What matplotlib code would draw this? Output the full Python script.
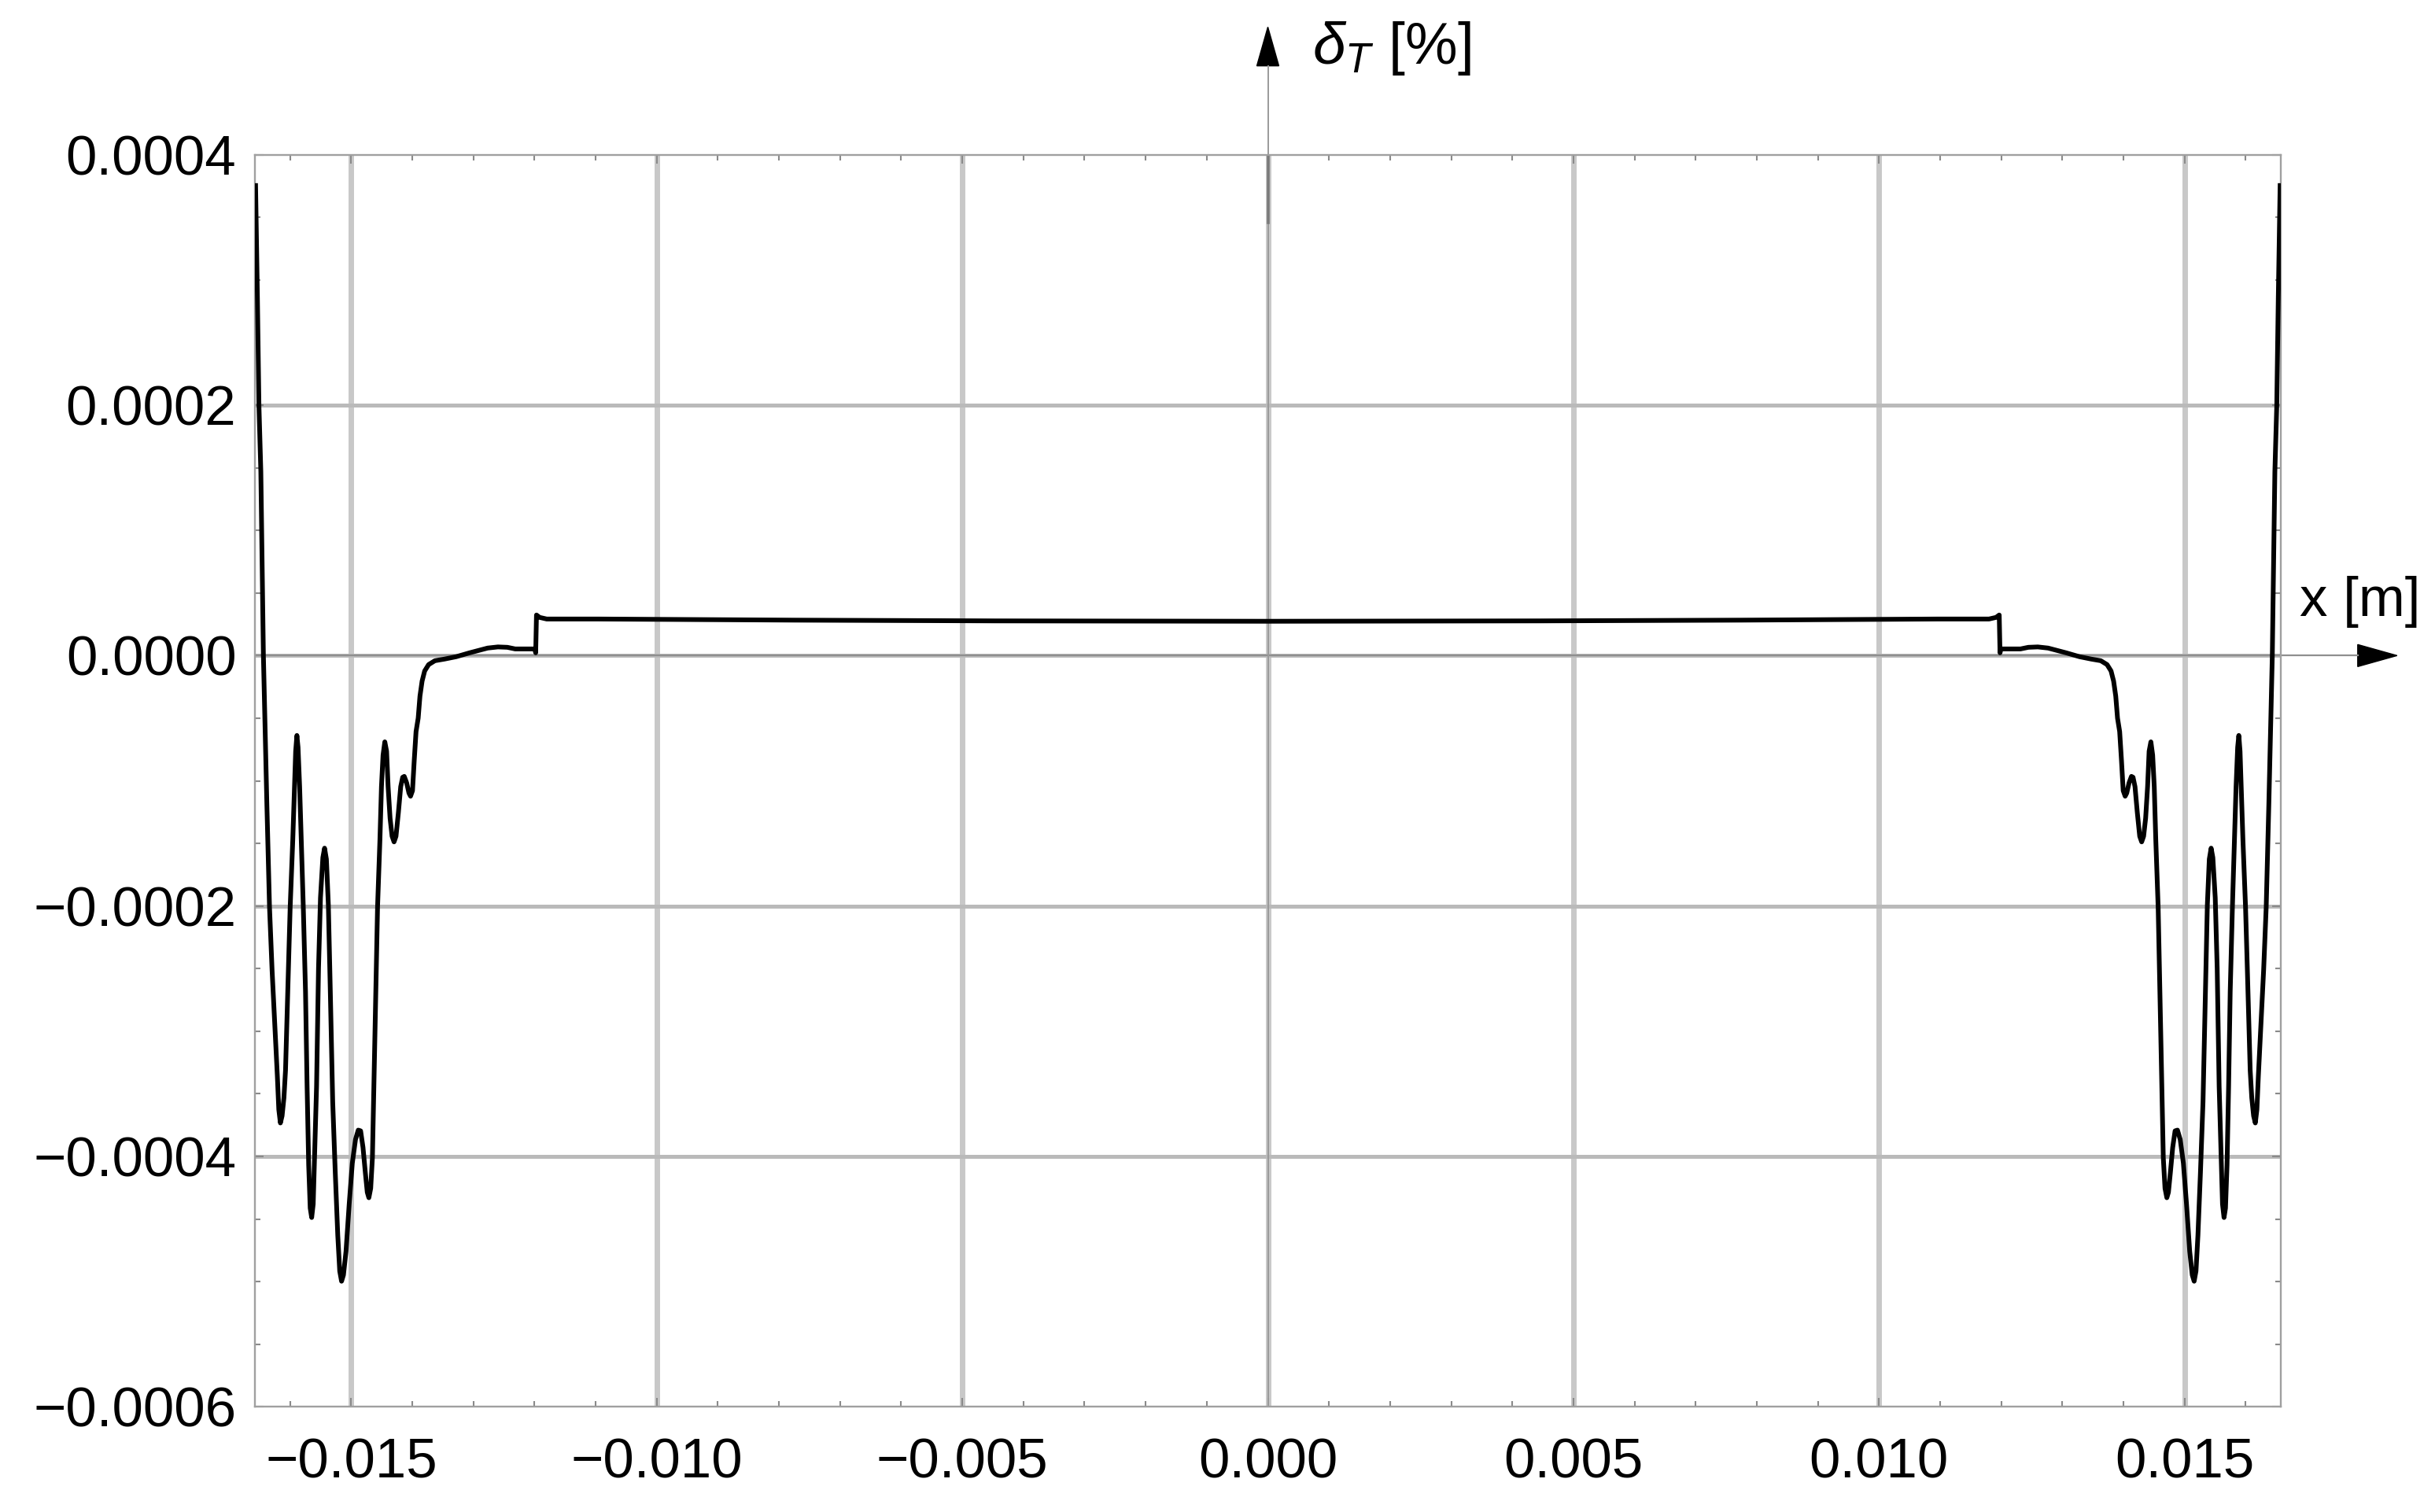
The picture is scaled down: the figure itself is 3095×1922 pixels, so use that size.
import numpy as np
import matplotlib
matplotlib.use("Agg")
import matplotlib.pyplot as plt
from matplotlib.patches import Polygon
from matplotlib.ticker import FixedLocator, FixedFormatter, MultipleLocator

plt.rcParams['font.family'] = ['Liberation Sans', 'DejaVu Sans']
plt.rcParams['mathtext.fontset'] = 'custom'
plt.rcParams['mathtext.rm'] = 'Liberation Sans'
plt.rcParams['mathtext.it'] = 'Liberation Sans:italic'

# left half of the curve (the curve is symmetric about x=0)
x_left = [-0.016566, -0.016536, -0.016511, -0.016480, -0.016459, -0.016438, -0.016382,
          -0.016338, -0.016296, -0.016253, -0.016210, -0.016186, -0.016160, -0.016132,
          -0.016102, -0.016076, -0.016030, -0.016000, -0.015957, -0.015929, -0.015910,
          -0.015890, -0.015871, -0.015845, -0.015813, -0.015785, -0.015749, -0.015723,
          -0.015697, -0.015672, -0.015648, -0.015623, -0.015601, -0.015568, -0.015536,
          -0.015504, -0.015465, -0.015437, -0.015407, -0.015375, -0.015343, -0.015304,
          -0.015262, -0.015221, -0.015189, -0.015159, -0.015128, -0.015086, -0.015034,
          -0.014983, -0.014931, -0.014886, -0.014847, -0.014808, -0.014770, -0.014738,
          -0.014712, -0.014682, -0.014654, -0.014635, -0.014609, -0.014570, -0.014531,
          -0.014506, -0.014480, -0.014451, -0.014422, -0.014397, -0.014365, -0.014332,
          -0.014300, -0.014268, -0.014229, -0.014191, -0.014159, -0.014133, -0.014094,
          -0.014056, -0.014030, -0.013998, -0.013970, -0.013940, -0.013905, -0.013876,
          -0.013841, -0.013799, -0.013734, -0.013631, -0.013476, -0.013283, -0.013064,
          -0.012768, -0.012600, -0.012446, -0.012317, -0.011995, -0.011982, -0.011969,
          -0.011918, -0.011802, -0.010965, -0.007746, -0.004463, 0.0]
y_left = [0.0003754, 0.0002853, 0.0001997, 0.0001469, 0.0000733, 0.0, -0.0001173,
          -0.000201, -0.0002513, -0.0002935, -0.0003356, -0.0003626, -0.0003733, -0.0003676,
          -0.0003532, -0.0003312, -0.0002513, -0.000201, -0.0001469, -0.0001047, -0.0000764,
          -0.0000638, -0.0000733, -0.0001047, -0.000155, -0.000201, -0.0002683, -0.000344,
          -0.000407, -0.0004413, -0.0004488, -0.0004381, -0.000401, -0.000344, -0.0002497,
          -0.0001934, -0.0001613, -0.0001538, -0.0001626, -0.0001991, -0.0002683, -0.0003563,
          -0.0004129, -0.000463, -0.0004916, -0.0004997, -0.0004947, -0.0004758, -0.0004381,
          -0.0004054, -0.0003865, -0.000379, -0.0003796, -0.0003928, -0.0004129, -0.0004287,
          -0.000433, -0.0004255, -0.000401, -0.0003563, -0.0002935, -0.000201, -0.0001469,
          -0.0001047, -0.0000795, -0.0000689, -0.0000764, -0.0001047, -0.0001299, -0.0001443,
          -0.0001488, -0.0001443, -0.0001255, -0.0001047, -0.0000972, -0.0000965, -0.0001016,
          -0.0001098, -0.0001123, -0.0001079, -0.000084, -0.0000607, -0.00005, -0.0000324,
          -0.0000204, -0.0000123, -0.0000072, -0.0000041, -0.0000028, -0.0000009, 0.0000022,
          0.000006, 0.0000069, 0.0000066, 0.0000053, 0.0000053, 0.0000022, 0.0000324,
          0.0000305, 0.0000292, 0.0000292, 0.0000283, 0.0000277, 0.0000274]

x_ticks = [-0.015, -0.010, -0.005, 0.0, 0.005, 0.010, 0.015]
x_tick_labels = ['\u22120.015', '\u22120.010', '\u22120.005', '0.000', '0.005', '0.010', '0.015']
y_ticks = [-0.0006, -0.0004, -0.0002, 0.0, 0.0002, 0.0004]
y_tick_labels = ['\u22120.0006', '\u22120.0004', '\u22120.0002', '0.0000', '0.0002', '0.0004']

# mirror the left half onto the right
x_all = np.concatenate([x_left, -np.array(x_left[:-1])[::-1]])
y_all = np.concatenate([y_left, np.array(y_left[:-1])[::-1]])

W, H = 3095, 1922
fig = plt.figure(figsize=(W / 100, H / 100), dpi=100)
ax = fig.add_axes([324 / W, 1 - 1788.3 / H, (2899 - 324) / W, (1788.3 - 196.7) / H])
ax.set_xlim(-0.016577, 0.016577)
ax.set_ylim(-0.0006, 0.0004)

# grid
for gx in x_ticks:
    ax.axvline(gx, color='#c8c8c8', lw=5.0, zorder=1)
for gy in y_ticks[1:-1]:
    ax.axhline(gy, color='#bababa', lw=3.6, zorder=1)
ax.axhline(0, color='#8f8f8f', lw=1.6, zorder=2)
ax.axvline(0, color='#9a9a9a', lw=1.4, zorder=2)
ax.plot([0, 0], [0.000346, 0.0004], color='#7a7a7a', lw=2.6, zorder=2)

ax.plot(x_all, y_all, color='black', lw=4.3, zorder=5, solid_joinstyle='round')

for s in ax.spines.values():
    s.set_color('#a0a0a0')
    s.set_linewidth(1.7)

ax.xaxis.set_major_locator(FixedLocator(x_ticks))
ax.xaxis.set_major_formatter(FixedFormatter(x_tick_labels))
ax.yaxis.set_major_locator(FixedLocator(y_ticks))
ax.yaxis.set_major_formatter(FixedFormatter(y_tick_labels))
ax.xaxis.set_minor_locator(MultipleLocator(0.001))
ax.yaxis.set_minor_locator(MultipleLocator(0.00005))
ax.tick_params(which='both', direction='in', top=True, right=True, color='#8a8a8a', width=1.5)
ax.tick_params(which='major', length=8, labelsize=51)
ax.tick_params(which='minor', length=5)
ax.tick_params(axis='x', pad=28)
ax.tick_params(axis='y', pad=17)

# axis arrows beyond the frame
ax.plot([0.016577, 0.017836], [0, 0], color='#8f8f8f', lw=1.6, clip_on=False)
ax.add_patch(Polygon([[0.017836, 8.8e-6], [0.018480, 0], [0.017836, -8.8e-6]],
                     closed=True, color='black', clip_on=False))
ax.plot([0, 0], [0.0004, 0.000471], color='#9a9a9a', lw=1.4, clip_on=False)
ax.add_patch(Polygon([[-0.00018, 0.000471], [0, 0.000502], [0.00018, 0.000471]],
                     closed=True, color='black', clip_on=False))

ax.text(0.016884, 0.0000431, 'x [m]', fontsize=51, ha='left', va='center', clip_on=False)
ax.text(0.000725, 0.000485, r'$\delta_T$ [%]', fontsize=54, ha='left', va='center', clip_on=False)

fig.savefig('out.png', dpi=100)
